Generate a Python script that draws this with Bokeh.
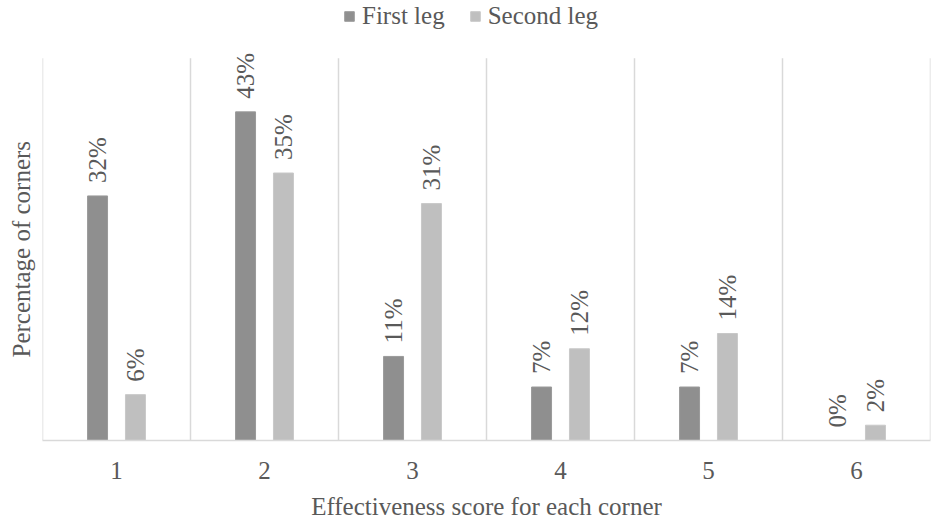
from bokeh.plotting import figure
from bokeh.models import Range1d, FixedTicker, Legend, LegendItem, ColumnDataSource, Title
from bokeh.core.properties import value
from bokeh.embed import file_html
from bokeh.resources import INLINE
import math

categories = [1, 2, 3, 4, 5, 6]
first_leg = [32, 43, 11, 7, 7, 0]
second_leg = [6, 35, 31, 12, 14, 2]
first_labels = ["32%", "43%", "11%", "7%", "7%", "0%"]
second_labels = ["6%", "35%", "31%", "12%", "14%", "2%"]
tick_labels = ["1", "2", "3", "4", "5", "6"]
y_axis_max = 50

FONT = "Liberation Serif"
TXT = "#595959"
DARK = "#8f8f8f"
LIGHT = "#bfbfbf"
GRID = "#d9d9d9"
off = 0.128
bw = 0.135

FRAME_H = 441          # frame height in px (frame spans canvas top to axis)
GRID_H = 383           # px occupied by 0..y_axis_max
y_top = y_axis_max * FRAME_H / GRID_H

p = figure(width=936, height=522, output_backend="svg", toolbar_location=None,
           x_range=Range1d(0.5, 6.5), y_range=Range1d(0, y_top),
           min_border_left=42, min_border_right=6, min_border_top=0, min_border_bottom=81)
p.outline_line_color = None
p.background_fill_color = "white"
p.xgrid.visible = False
p.ygrid.visible = False

# category separators
edges = [categories[0] - 0.5] + [c + 0.5 for c in categories]
p.segment(x0=edges, x1=edges, y0=[0] * len(edges), y1=[y_axis_max] * len(edges),
          line_color=GRID, line_width=1.5)

src1 = ColumnDataSource(dict(x=[c - off for c in categories], top=first_leg, lab=first_labels))
src2 = ColumnDataSource(dict(x=[c + off for c in categories], top=second_leg, lab=second_labels))

r1 = p.vbar(x="x", top="top", width=bw, bottom=0, source=src1, fill_color=DARK, line_color="#9a9a9a", line_width=1)
r2 = p.vbar(x="x", top="top", width=bw, bottom=0, source=src2, fill_color=LIGHT, line_color="#c8c8c8", line_width=1)

for s in (src1, src2):
    p.text(x="x", y="top", text="lab", source=s, angle=math.pi / 2, text_align="left",
           text_baseline="middle", y_offset=-13, text_font=value(FONT), text_font_size="25px",
           text_color=TXT)

# x axis
p.xaxis.ticker = FixedTicker(ticks=categories)
p.xaxis.major_label_overrides = {c: t for c, t in zip(categories, tick_labels)}
p.xaxis.major_tick_line_color = None
p.xaxis.minor_tick_line_color = None
p.xaxis.axis_line_color = GRID
p.xaxis.axis_line_width = 1.5
p.xaxis.major_label_text_font = FONT
p.xaxis.major_label_text_font_size = "25px"
p.xaxis.major_label_text_color = TXT
p.xaxis.major_label_standoff = 15
p.xaxis.axis_label = "Effectiveness score for each corner"
p.xaxis.axis_label_text_font = FONT
p.xaxis.axis_label_text_font_size = "25px"
p.xaxis.axis_label_text_font_style = "normal"
p.xaxis.axis_label_text_color = TXT
p.xaxis.axis_label_standoff = 11

# y axis (no ticks, label drawn as a side title so it sits on the 0..50 band)
p.yaxis.ticker = FixedTicker(ticks=[])
p.yaxis.major_label_text_font_size = "1px"
p.yaxis.major_label_text_alpha = 0
p.yaxis.major_tick_line_color = None
p.yaxis.minor_tick_line_color = None
p.yaxis.axis_line_color = None
p.yaxis.major_label_standoff = 0

ytitle = Title(text="Percentage of corners", align="left", offset=83,
               vertical_align="top",
               text_font=FONT, text_font_size="25px", text_font_style="normal",
               text_color=TXT, standoff=11)
p.add_layout(ytitle, "left")

legend = Legend(items=[LegendItem(label="First leg", renderers=[r1]),
                       LegendItem(label="Second leg", renderers=[r2])],
                orientation="horizontal", location=(301, 410))
legend.label_text_font = FONT
legend.label_text_font_size = "25px"
legend.label_text_color = TXT
legend.glyph_width = 12
legend.glyph_height = 12
legend.label_standoff = 7
legend.spacing = 24
legend.border_line_color = None
legend.background_fill_alpha = 0
legend.padding = 0
legend.margin = 0
p.add_layout(legend)

open("out.html", "w").write(file_html(p, INLINE))
